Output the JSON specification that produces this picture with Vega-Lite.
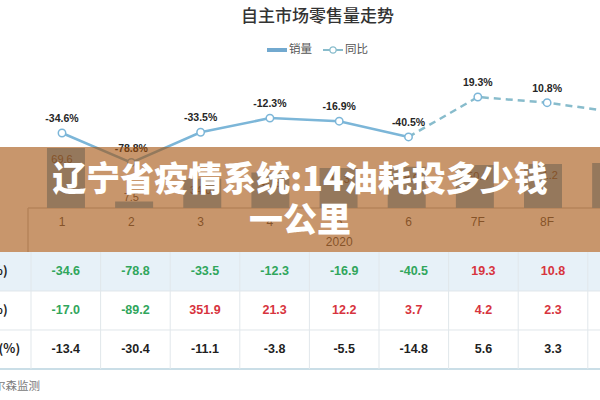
{
  "$schema": "https://vega.github.io/schema/vega-lite/v6.json",
  "width": 600,
  "height": 400,
  "autosize": "none",
  "padding": 0,
  "background": "#ffffff",
  "view": {"stroke": null},
  "config": {
    "locale": {
      "number": {"decimal": ".", "thousands": ",", "grouping": [3], "currency": ["", ""], "minus": "-"}
    }
  },
  "datasets": {
    "sales": [
      {"m": 1, "lab": "1", "sales": 69.6, "yoy": -34.6},
      {"m": 2, "lab": "2", "sales": 7.5, "yoy": -78.8},
      {"m": 3, "lab": "3", "sales": 34.0, "yoy": -33.5},
      {"m": 4, "lab": "4", "sales": 41.3, "yoy": -12.3},
      {"m": 5, "lab": "5", "sales": 46.3, "yoy": -16.9},
      {"m": 6, "lab": "6", "sales": 48.0, "yoy": -40.5},
      {"m": 7, "lab": "7F", "sales": 50.0, "yoy": 19.3},
      {"m": 8, "lab": "8F", "sales": 51.2, "yoy": 10.8},
      {"m": 9, "lab": "9F", "sales": 52.2, "yoy": -3.5}
    ],
    "table": [
      {"r": 1, "c": 1, "v": -34.6}, {"r": 1, "c": 2, "v": -78.8}, {"r": 1, "c": 3, "v": -33.5}, {"r": 1, "c": 4, "v": -12.3},
      {"r": 1, "c": 5, "v": -16.9}, {"r": 1, "c": 6, "v": -40.5}, {"r": 1, "c": 7, "v": 19.3}, {"r": 1, "c": 8, "v": 10.8},
      {"r": 2, "c": 1, "v": -17.0}, {"r": 2, "c": 2, "v": -89.2}, {"r": 2, "c": 3, "v": 351.9}, {"r": 2, "c": 4, "v": 21.3},
      {"r": 2, "c": 5, "v": 12.2}, {"r": 2, "c": 6, "v": 3.7}, {"r": 2, "c": 7, "v": 4.2}, {"r": 2, "c": 8, "v": 2.3},
      {"r": 3, "c": 1, "v": -13.4}, {"r": 3, "c": 2, "v": -30.4}, {"r": 3, "c": 3, "v": -11.1}, {"r": 3, "c": 4, "v": -3.8},
      {"r": 3, "c": 5, "v": -5.5}, {"r": 3, "c": 6, "v": -14.8}, {"r": 3, "c": 7, "v": 5.6}, {"r": 3, "c": 8, "v": 3.3}
    ],
    "rows": [
      {"r": 1, "name": "同比(%)"},
      {"r": 2, "name": "环比(%)"},
      {"r": 3, "name": "行业同比(%)"}
    ]
  },
  "layer": [
    {
      "data": {"values": [{}]},
      "mark": {"type": "rect", "color": "#e7f1f8"},
      "encoding": {
        "x": {"datum": 0, "type": "quantitative", "scale": {"domain": [0.0546, 8.6753], "nice": false, "zero": false}, "axis": null},
        "x2": {"datum": 9},
        "y": {"datum": 0.5, "type": "quantitative", "scale": {"domain": [-5.9615, 4.2949], "nice": false, "zero": false, "reverse": true}, "axis": null},
        "y2": {"datum": 1.5}
      }
    },
    {
      "data": {"values": [{}]},
      "mark": {"type": "rule", "color": "#e0e6ea", "strokeWidth": 1},
      "encoding": {
        "x": {"datum": 0, "type": "quantitative", "scale": {"domain": [0.0546, 8.6753], "nice": false, "zero": false}, "axis": null},
        "x2": {"datum": 9},
        "y": {"datum": 1.5, "type": "quantitative", "scale": {"domain": [-5.9615, 4.2949], "nice": false, "zero": false, "reverse": true}, "axis": null}
      }
    },
    {
      "data": {"values": [{}]},
      "mark": {"type": "rule", "color": "#e0e6ea", "strokeWidth": 1},
      "encoding": {
        "x": {"datum": 0, "type": "quantitative", "scale": {"domain": [0.0546, 8.6753], "nice": false, "zero": false}, "axis": null},
        "x2": {"datum": 9},
        "y": {"datum": 2.5, "type": "quantitative", "scale": {"domain": [-5.9615, 4.2949], "nice": false, "zero": false, "reverse": true}, "axis": null}
      }
    },
    {
      "data": {"values": [{}]},
      "mark": {"type": "rule", "color": "#b9d3df", "strokeWidth": 1.5},
      "encoding": {
        "x": {"datum": 0, "type": "quantitative", "scale": {"domain": [0.0546, 8.6753], "nice": false, "zero": false}, "axis": null},
        "x2": {"datum": 9},
        "y": {"datum": 3.5, "type": "quantitative", "scale": {"domain": [-5.9615, 4.2949], "nice": false, "zero": false, "reverse": true}, "axis": null}
      }
    },
    {
      "data": {"name": "sales"},
      "mark": {"type": "rule", "color": "#e1e7eb", "strokeWidth": 1, "xOffset": -34.8},
      "encoding": {
        "x": {"field": "m", "type": "quantitative", "scale": {"domain": [0.0546, 8.6753], "nice": false, "zero": false}, "axis": null},
        "y": {"datum": 0.5, "type": "quantitative", "scale": {"domain": [-5.9615, 4.2949], "nice": false, "zero": false, "reverse": true}, "axis": null},
        "y2": {"datum": 3.5}
      }
    },
    {
      "data": {"name": "table"},
      "mark": {"type": "text", "font": "Liberation Sans", "fontSize": 12.5, "fontWeight": "bold", "baseline": "middle"},
      "encoding": {
        "x": {"field": "c", "type": "quantitative", "scale": {"domain": [0.0546, 8.6753], "nice": false, "zero": false}, "axis": null},
        "y": {"field": "r", "type": "quantitative", "scale": {"domain": [-5.9615, 4.2949], "nice": false, "zero": false, "reverse": true}, "axis": null},
        "text": {"field": "v", "format": ".1f"},
        "color": {
          "condition": [
            {"test": "datum.r === 3", "value": "#1f1f1f"},
            {"test": "datum.v < 0", "value": "#30a65c"}
          ],
          "value": "#d7343e"
        }
      }
    },
    {
      "data": {"name": "rows"},
      "mark": {"type": "text", "font": "Noto Sans CJK SC", "fontSize": 12.5, "fontWeight": "bold", "baseline": "middle", "color": "#1f1f1f"},
      "encoding": {
        "x": {"datum": -0.17, "type": "quantitative", "scale": {"domain": [0.0546, 8.6753], "nice": false, "zero": false}, "axis": null},
        "y": {"field": "r", "type": "quantitative", "scale": {"domain": [-5.9615, 4.2949], "nice": false, "zero": false, "reverse": true}, "axis": null},
        "text": {"field": "name"}
      }
    },
    {
      "data": {"values": [{}]},
      "mark": {"type": "text", "font": "Noto Sans CJK SC", "fontSize": 11.5, "align": "right", "baseline": "middle", "color": "#7a7a7a", "text": "数据来源：威尔森监测"},
      "encoding": {
        "x": {"datum": 0.629, "type": "quantitative", "scale": {"domain": [0.0546, 8.6753], "nice": false, "zero": false}, "axis": null},
        "y": {"datum": 3.96, "type": "quantitative", "scale": {"domain": [-5.9615, 4.2949], "nice": false, "zero": false, "reverse": true}, "axis": null}
      }
    },
    {
      "data": {"values": [{}]},
      "mark": {"type": "rule", "color": "#cfcfcf", "strokeWidth": 1.5},
      "encoding": {
        "x": {"datum": 0.5094, "type": "quantitative", "scale": {"domain": [0.1053, 8.763], "nice": false, "zero": false}, "axis": null},
        "x2": {"datum": 9.5},
        "y": {"datum": 0, "type": "quantitative", "scale": {"domain": [-222.7, 241.3], "nice": false, "zero": false}, "axis": null}
      }
    },
    {
      "data": {"values": [{}]},
      "mark": {"type": "rule", "color": "#cfcfcf", "strokeWidth": 1.5},
      "encoding": {
        "x": {"datum": 0.5094, "type": "quantitative", "scale": {"domain": [0.1053, 8.763], "nice": false, "zero": false}, "axis": null},
        "y": {"datum": 0, "type": "quantitative", "scale": {"domain": [-222.7, 241.3], "nice": false, "zero": false}, "axis": null},
        "y2": {"datum": -51.04}
      }
    },
    {
      "data": {"name": "sales"},
      "mark": {"type": "bar", "color": "#80b3d6", "width": 38, "clip": true},
      "encoding": {
        "x": {"field": "m", "type": "quantitative", "scale": {"domain": [0.1053, 8.763], "nice": false, "zero": false}, "axis": null},
        "y": {"field": "sales", "type": "quantitative", "scale": {"domain": [-222.7, 241.3], "nice": false, "zero": false}, "axis": null}
      }
    },
    {
      "data": {"name": "sales"},
      "transform": [{"filter": "datum.sales >= 20"}],
      "mark": {"type": "text", "font": "Liberation Sans", "fontSize": 11, "baseline": "middle", "dy": 12, "color": "#555555", "clip": true},
      "encoding": {
        "x": {"field": "m", "type": "quantitative", "scale": {"domain": [0.1053, 8.763], "nice": false, "zero": false}, "axis": null},
        "y": {"field": "sales", "type": "quantitative", "scale": {"domain": [-222.7, 241.3], "nice": false, "zero": false}, "axis": null},
        "text": {"field": "sales", "format": ".1f"}
      }
    },
    {
      "data": {"name": "sales"},
      "transform": [{"filter": "datum.sales < 20"}],
      "mark": {"type": "text", "font": "Liberation Sans", "fontSize": 11, "baseline": "alphabetic", "dy": -1, "color": "#555555"},
      "encoding": {
        "x": {"field": "m", "type": "quantitative", "scale": {"domain": [0.1053, 8.763], "nice": false, "zero": false}, "axis": null},
        "y": {"field": "sales", "type": "quantitative", "scale": {"domain": [-222.7, 241.3], "nice": false, "zero": false}, "axis": null},
        "text": {"field": "sales", "format": ".1f"}
      }
    },
    {
      "data": {"name": "sales"},
      "mark": {"type": "text", "font": "Liberation Sans", "fontSize": 12, "baseline": "middle", "color": "#595959", "clip": true},
      "encoding": {
        "x": {"field": "m", "type": "quantitative", "scale": {"domain": [0.1053, 8.763], "nice": false, "zero": false}, "axis": null},
        "y": {"datum": -16.24, "type": "quantitative", "scale": {"domain": [-222.7, 241.3], "nice": false, "zero": false}, "axis": null},
        "text": {"field": "lab"}
      }
    },
    {
      "data": {"values": [{}]},
      "mark": {"type": "text", "font": "Liberation Sans", "fontSize": 12, "baseline": "middle", "color": "#595959", "text": "2020"},
      "encoding": {
        "x": {"datum": 5, "type": "quantitative", "scale": {"domain": [0.1053, 8.763], "nice": false, "zero": false}, "axis": null},
        "y": {"datum": -39.44, "type": "quantitative", "scale": {"domain": [-222.7, 241.3], "nice": false, "zero": false}, "axis": null}
      }
    },
    {
      "data": {"name": "sales"},
      "transform": [{"filter": "datum.m <= 6"}],
      "mark": {"type": "line", "color": "#7cb6d8", "strokeWidth": 2.5},
      "encoding": {
        "x": {"field": "m", "type": "quantitative", "scale": {"domain": [0.1053, 8.763], "nice": false, "zero": false}, "axis": null},
        "y": {"field": "yoy", "type": "quantitative", "scale": {"domain": [-434.3, 164.5], "nice": false, "zero": false}, "axis": null}
      }
    },
    {
      "data": {"name": "sales"},
      "transform": [{"filter": "datum.m >= 6"}],
      "mark": {"type": "line", "color": "#88bccc", "strokeWidth": 2.5, "strokeDash": [7, 5], "clip": true},
      "encoding": {
        "x": {"field": "m", "type": "quantitative", "scale": {"domain": [0.1053, 8.763], "nice": false, "zero": false}, "axis": null},
        "y": {"field": "yoy", "type": "quantitative", "scale": {"domain": [-434.3, 164.5], "nice": false, "zero": false}, "axis": null}
      }
    },
    {
      "data": {"name": "sales"},
      "mark": {"type": "point", "shape": "circle", "filled": true, "fill": "#ffffff", "stroke": "#7cb6d8", "strokeWidth": 1.5, "size": 55, "opacity": 1, "clip": true},
      "encoding": {
        "x": {"field": "m", "type": "quantitative", "scale": {"domain": [0.1053, 8.763], "nice": false, "zero": false}, "axis": null},
        "y": {"field": "yoy", "type": "quantitative", "scale": {"domain": [-434.3, 164.5], "nice": false, "zero": false}, "axis": null}
      }
    },
    {
      "data": {"name": "sales"},
      "mark": {"type": "text", "font": "Liberation Sans", "fontSize": 10.5, "fontWeight": "bold", "dy": -14, "baseline": "middle", "color": "#262626", "clip": true, "text": {"expr": "format(datum.yoy, '.1f') + '%'"}},
      "encoding": {
        "x": {"field": "m", "type": "quantitative", "scale": {"domain": [0.1053, 8.763], "nice": false, "zero": false}, "axis": null},
        "y": {"field": "yoy", "type": "quantitative", "scale": {"domain": [-434.3, 164.5], "nice": false, "zero": false}, "axis": null}
      }
    },
    {
      "data": {"values": [{}]},
      "mark": {"type": "text", "font": "Noto Sans CJK SC", "fontSize": 17, "fontWeight": 500, "baseline": "middle", "color": "#333333", "text": "自主市场零售量走势"},
      "encoding": {
        "x": {"datum": 4.687, "type": "quantitative", "scale": {"domain": [0.1053, 8.763], "nice": false, "zero": false}, "axis": null},
        "y": {"datum": 139.05, "type": "quantitative", "scale": {"domain": [-434.3, 164.5], "nice": false, "zero": false}, "axis": null}
      }
    },
    {
      "data": {"values": [{}]},
      "mark": {"type": "rect", "color": "#72a9cf"},
      "encoding": {
        "x": {"datum": 3.958, "type": "quantitative", "scale": {"domain": [0.1053, 8.763], "nice": false, "zero": false}, "axis": null},
        "x2": {"datum": 4.2468},
        "y": {"datum": 92.64, "type": "quantitative", "scale": {"domain": [-434.3, 164.5], "nice": false, "zero": false}, "axis": null},
        "y2": {"datum": 86.66}
      }
    },
    {
      "data": {"values": [{}]},
      "mark": {"type": "rule", "color": "#88bccc", "strokeWidth": 2},
      "encoding": {
        "x": {"datum": 4.7662, "type": "quantitative", "scale": {"domain": [0.1053, 8.763], "nice": false, "zero": false}, "axis": null},
        "x2": {"datum": 5.0548},
        "y": {"datum": 89.65, "type": "quantitative", "scale": {"domain": [-434.3, 164.5], "nice": false, "zero": false}, "axis": null}
      }
    },
    {
      "data": {"values": [{}]},
      "mark": {"type": "point", "shape": "circle", "filled": true, "fill": "#ffffff", "stroke": "#88bccc", "strokeWidth": 1.3, "size": 40, "opacity": 1},
      "encoding": {
        "x": {"datum": 4.9105, "type": "quantitative", "scale": {"domain": [0.1053, 8.763], "nice": false, "zero": false}, "axis": null},
        "y": {"datum": 89.65, "type": "quantitative", "scale": {"domain": [-434.3, 164.5], "nice": false, "zero": false}, "axis": null}
      }
    },
    {
      "data": {"values": [{"name": "销量", "pos": 4.2756}, {"name": "同比", "pos": 5.0837}]},
      "mark": {"type": "text", "font": "Noto Sans CJK SC", "fontSize": 11.5, "align": "left", "baseline": "middle", "color": "#555555"},
      "encoding": {
        "x": {"field": "pos", "type": "quantitative", "scale": {"domain": [0.1053, 8.763], "nice": false, "zero": false}, "axis": null},
        "y": {"datum": 89.65, "type": "quantitative", "scale": {"domain": [-434.3, 164.5], "nice": false, "zero": false}, "axis": null},
        "text": {"field": "name"}
      }
    },
    {
      "data": {"values": [{}]},
      "mark": {"type": "rect", "color": "#a3500a", "opacity": 0.6},
      "encoding": {
        "x": {"datum": 0, "type": "quantitative", "scale": {"domain": [0.1053, 8.763], "nice": false, "zero": false}, "axis": null},
        "x2": {"datum": 9.5},
        "y": {"datum": 70.77, "type": "quantitative", "scale": {"domain": [-222.7, 241.3], "nice": false, "zero": false}, "axis": null},
        "y2": {"datum": -51.04}
      }
    },
    {
      "data": {"values": [{"line": "辽宁省疫情系统:14油耗投多少钱", "lv": 31.32}, {"line": "一公里", "lv": -16.24}]},
      "mark": {"type": "text", "font": "Noto Sans CJK SC", "fontSize": 34, "fontWeight": 900, "baseline": "middle", "color": "#ffffff"},
      "encoding": {
        "x": {"datum": 4.4343, "type": "quantitative", "scale": {"domain": [0.1053, 8.763], "nice": false, "zero": false}, "axis": null},
        "y": {"field": "lv", "type": "quantitative", "scale": {"domain": [-222.7, 241.3], "nice": false, "zero": false}, "axis": null},
        "text": {"field": "line"}
      }
    }
  ],
  "resolve": {"scale": {"x": "independent", "y": "independent"}}
}
